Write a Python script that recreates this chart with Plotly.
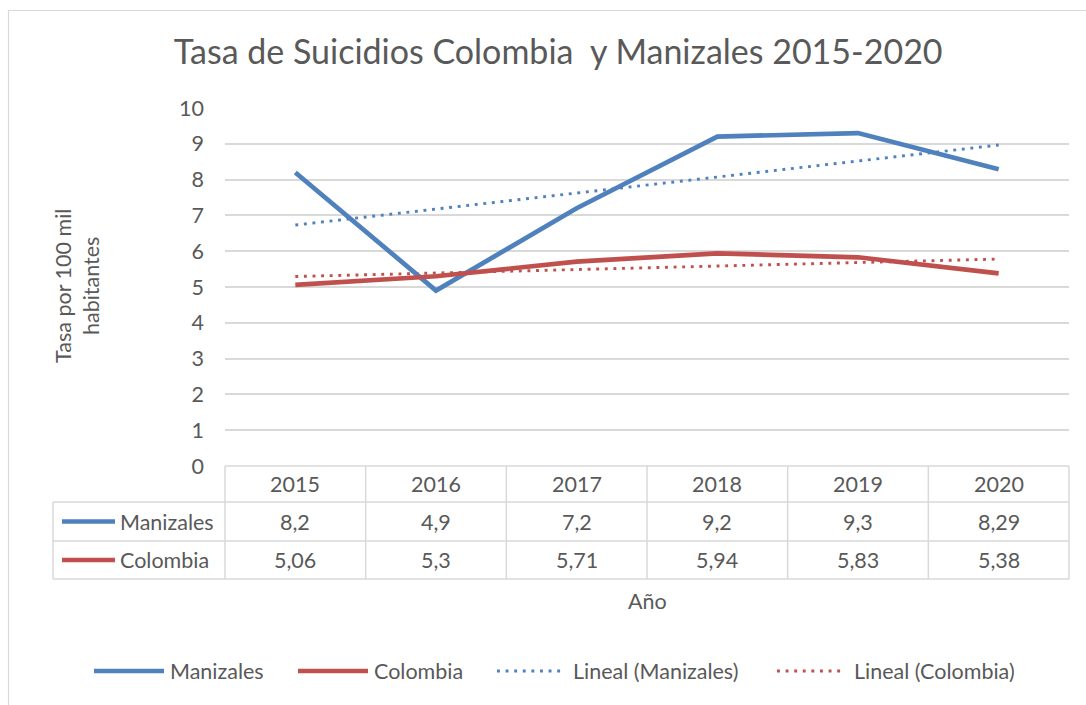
import numpy as np
import plotly.graph_objects as go

years = [2015, 2016, 2017, 2018, 2019, 2020]
manizales = [8.2, 4.9, 7.2, 9.2, 9.3, 8.29]
colombia = [5.06, 5.3, 5.71, 5.94, 5.83, 5.38]
manizales_lbl = ["8,2", "4,9", "7,2", "9,2", "9,3", "8,29"]
colombia_lbl = ["5,06", "5,3", "5,71", "5,94", "5,83", "5,38"]

title = "Tasa de Suicidios Colombia  y Manizales 2015-2020"
BLUE = "#4F81BD"
RED = "#C0504D"
TXT = "#595959"
GRID = "#D9D9D9"
FONT = "Lato"
FS = 21.5

W, H = 1086, 705
L, R, T, B = 225, 17, 108, 239
PW, PH = W - L - R, H - T - B


def px(x):
    return (x - L) / PW


def py(y):
    return (H - B - y) / PH


# linear trendlines (Excel "Lineal")
idx = np.arange(1, len(years) + 1)
m_fit = np.polyval(np.polyfit(idx, manizales, 1), idx)
c_fit = np.polyval(np.polyfit(idx, colombia, 1), idx)

DOT = dict(width=2.9, dash="2.9px,5.7px")

fig = go.Figure()
fig.add_trace(go.Scatter(x=years, y=m_fit, mode="lines", name="Lineal (Manizales)",
                         line=dict(color=BLUE, **DOT)))
fig.add_trace(go.Scatter(x=years, y=c_fit, mode="lines", name="Lineal (Colombia)",
                         line=dict(color=RED, **DOT)))
fig.add_trace(go.Scatter(x=years, y=manizales, mode="lines", name="Manizales",
                         line=dict(color=BLUE, width=4.7)))
fig.add_trace(go.Scatter(x=years, y=colombia, mode="lines", name="Colombia",
                         line=dict(color=RED, width=4.7)))

shapes = []
annotations = []

# outer chart border
shapes.append(dict(type="rect", xref="paper", yref="paper", x0=px(8.5), x1=px(1100),
                   y0=py(720), y1=py(10.5), line=dict(color="#D9D9D9", width=1.2)))

# data table
xmin, xmax = years[0] - 0.5, years[-1] + 0.5


def xp(v):
    return (v - xmin) / (xmax - xmin)


row_tops = [466, 502, 541, 579]
line_style = dict(color=GRID, width=1.5)
shapes.append(dict(type="line", xref="paper", yref="paper", x0=0, x1=1,
                   y0=py(466), y1=py(466), line=line_style))
for yy in row_tops[1:]:
    shapes.append(dict(type="line", xref="paper", yref="paper", x0=px(53), x1=1,
                       y0=py(yy), y1=py(yy), line=line_style))
for i in range(len(years) + 1):
    xv = xp(years[0] - 0.5 + i)
    shapes.append(dict(type="line", xref="paper", yref="paper", x0=xv, x1=xv,
                       y0=py(466), y1=py(579), line=line_style))
shapes.append(dict(type="line", xref="paper", yref="paper", x0=px(53), x1=px(53),
                   y0=py(502), y1=py(579), line=line_style))

row_centers = [484, 521.5, 560]
for yr, ml, cl in zip(years, manizales_lbl, colombia_lbl):
    for txt, yc in zip([str(yr), ml, cl], row_centers):
        annotations.append(dict(x=yr, xref="x", y=py(yc), yref="paper", text=txt,
                                showarrow=False, xanchor="center", yanchor="middle",
                                font=dict(family=FONT, size=FS, color=TXT)))

for name, color, yc in [("Manizales", BLUE, row_centers[1]), ("Colombia", RED, row_centers[2])]:
    shapes.append(dict(type="line", xref="paper", yref="paper", x0=px(62), x1=px(115),
                       y0=py(yc), y1=py(yc), line=dict(color=color, width=4.7)))
    annotations.append(dict(x=px(118), xref="paper", y=py(yc), yref="paper", text=name,
                            showarrow=False, xanchor="left", yanchor="middle",
                            font=dict(family=FONT, size=FS, color=TXT)))

# axis titles
annotations.append(dict(x=0.5, xref="paper", y=py(601), yref="paper", text="Año",
                        showarrow=False, xanchor="center", yanchor="middle",
                        font=dict(family=FONT, size=FS, color=TXT)))
annotations.append(dict(x=px(77), xref="paper", y=py(286), yref="paper",
                        text="Tasa por 100 mil<br>habitantes", textangle=-90,
                        showarrow=False, xanchor="center", yanchor="middle",
                        font=dict(family=FONT, size=FS, color=TXT)))

# bottom legend
legend_items = [
    ("Manizales", BLUE, None, 94, 70, 168),
    ("Colombia", RED, None, 298, 70, 372),
    ("Lineal (Manizales)", BLUE, "dot", 497, 64, 571),
    ("Lineal (Colombia)", RED, "dot", 777, 64, 852),
]
ly = 671
for name, color, dash, x0, ln_w, tx in legend_items:
    if dash:
        ln = dict(color=color, **DOT)
    else:
        ln = dict(color=color, width=4.7)
    shapes.append(dict(type="line", xref="paper", yref="paper", x0=px(x0), x1=px(x0 + ln_w),
                       y0=py(ly), y1=py(ly), line=ln))
    annotations.append(dict(x=px(tx), xref="paper", y=py(ly), yref="paper", text=name,
                            showarrow=False, xanchor="left", yanchor="middle",
                            font=dict(family=FONT, size=FS, color=TXT)))

fig.update_layout(
    width=W, height=H,
    margin=dict(l=L, r=R, t=T, b=B),
    paper_bgcolor="white", plot_bgcolor="white",
    showlegend=False,
    title=dict(text=title, x=0.514, xanchor="center", y=1 - 52 / H, yanchor="middle",
               font=dict(family=FONT, size=34, color=TXT)),
    xaxis=dict(range=[xmin, xmax], showgrid=False, zeroline=False, showticklabels=False,
               showline=False, fixedrange=True),
    yaxis=dict(range=[0, 10], dtick=1, tick0=0, showgrid=True, gridcolor=GRID, gridwidth=1.5,
               zeroline=False, showline=False, ticks="", ticklabelstandoff=20,
               tickfont=dict(family=FONT, size=FS, color=TXT)),
    shapes=shapes,
    annotations=annotations,
)

fig.write_html("out.html", config={"displayModeBar": False},
               post_script="document.body.style.margin='0';")
